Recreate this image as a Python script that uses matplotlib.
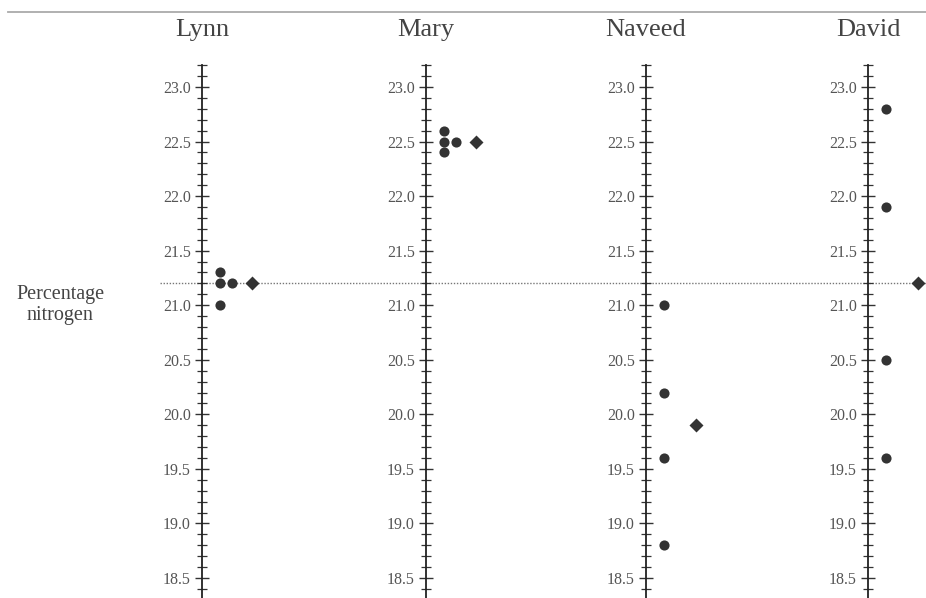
import matplotlib.pyplot as plt
from matplotlib.ticker import MultipleLocator, FormatStrFormatter
from matplotlib.lines import Line2D

plt.rcParams['font.family'] = ['Liberation Serif', 'DejaVu Serif']

# datos de los cuatro analistas (porcentaje de nitrógeno)
names = ["Lynn", "Mary", "Naveed", "David"]
lynn = [21.3, 21.2, 21.2, 21.0]
mary = [22.6, 22.5, 22.5, 22.4]
naveed = [21.0, 20.2, 19.6, 18.8]
david = [22.8, 21.9, 20.5, 19.6]
results = [lynn, mary, naveed, david]
true_value = 21.2

W, H = 926, 598
fig = plt.figure(figsize=(W / 100, H / 100), dpi=100)

# posicion de cada eje en pixeles
axis_x = [202, 426, 646, 868]
y_top, y_bot = 65, 598
ylim = (18.5 - 20 / 109.1, 23.0 + 22 / 109.1)

# eje de fondo para la linea del valor verdadero
bg = fig.add_axes([0, 1 - y_bot / H, 1, (y_bot - y_top) / H])
bg.set_ylim(*ylim)
bg.set_xlim(0, 1)
bg.axis('off')
bg.axhline(true_value, xmin=160 / W, xmax=1, color='#777777', lw=1.0,
           ls=(0, (1, 1.2)), zorder=0)

# linea superior
fig.add_artist(Line2D([8 / W, 1], [1 - 11.5 / H, 1 - 11.5 / H],
                      color='#aaaaaa', lw=1.3))

for name, vals, x0 in zip(names, results, axis_x):
    ax = fig.add_axes([x0 / W, 1 - y_bot / H, 60 / W, (y_bot - y_top) / H])
    ax.patch.set_alpha(0)
    ax.set_ylim(*ylim)
    ax.set_xlim(0, 60)
    for s in ['top', 'right', 'bottom']:
        ax.spines[s].set_visible(False)
    ax.spines['left'].set_color('#222222')
    ax.spines['left'].set_linewidth(1.3)
    ax.set_xticks([])
    ax.yaxis.set_major_locator(MultipleLocator(0.5))
    ax.yaxis.set_minor_locator(MultipleLocator(0.1))
    ax.yaxis.set_major_formatter(FormatStrFormatter('%.1f'))
    ax.tick_params(axis='y', which='major', direction='inout', length=10,
                   width=1.0, color='#333333', labelsize=11.5,
                   labelcolor='#555555', pad=3)
    ax.tick_params(axis='y', which='minor', direction='inout', length=7,
                   width=0.9, color='#333333')

    # puntos: los repetidos se desplazan a la derecha
    seen = {}
    for v in vals:
        k = seen.get(v, 0)
        seen[v] = k + 1
        ax.plot(18 + 12 * k, v, 'o', color='#333333', ms=7.3, mec='none',
                clip_on=False, zorder=3)
    mean = sum(vals) / len(vals)
    ax.plot(50, round(mean, 1), 'D', color='#333333', ms=7, mec='none',
            clip_on=False, zorder=3)

    fig.text(x0 / W, 1 - 30 / H, name, ha='center', va='center',
             fontsize=19, color='#444444')

fig.text(60 / W, 1 - 305 / H, "Percentage\nnitrogen", ha='center',
         va='center', fontsize=14.5, color='#444444', linespacing=1.15)

fig.savefig('out.png', dpi=100)
